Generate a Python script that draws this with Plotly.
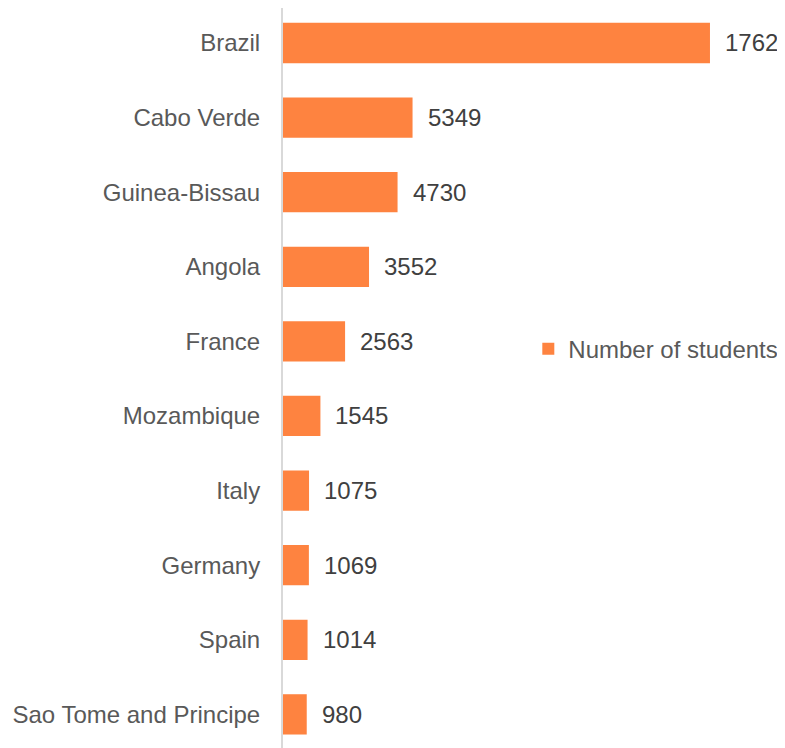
import plotly.graph_objects as go

countries = ["Brazil", "Cabo Verde", "Guinea-Bissau", "Angola", "France",
             "Mozambique", "Italy", "Germany", "Spain", "Sao Tome and Principe"]
students = [17629, 5349, 4730, 3552, 2563, 1545, 1075, 1069, 1014, 980]

bar_color = "#FE8340"
label_color = "#595959"

fig = go.Figure(go.Bar(
    x=students, y=countries, orientation="h",
    name="Number of students",
    marker=dict(color=bar_color, line=dict(width=0)),
    width=0.54,
))

for c, v in zip(countries, students):
    fig.add_annotation(x=v, y=c, text=str(v), showarrow=False,
                       xanchor="left", xshift=13,
                       font=dict(size=24, color="#404040"))

fig.update_layout(
    width=785, height=748,
    margin=dict(l=275, r=0, t=0, b=0),
    paper_bgcolor="white", plot_bgcolor="white",
    font=dict(family="Liberation Sans, Arial, sans-serif", size=24, color=label_color),
    showlegend=True,
    legend=dict(x=0.481, y=0.544, xanchor="left", yanchor="middle",
                font=dict(size=24, color=label_color), bgcolor="rgba(0,0,0,0)"),
)
fig.update_xaxes(range=[0, 21057], showgrid=False, zeroline=False,
                 showticklabels=False, showline=False)
fig.update_yaxes(range=[9.558, -0.469], showgrid=False, zeroline=False,
                 showline=True, linecolor="#D9D9D9", linewidth=2,
                 ticks="", ticklabelstandoff=16,
                 tickfont=dict(size=24, color=label_color))

fig.write_html("out.html")
